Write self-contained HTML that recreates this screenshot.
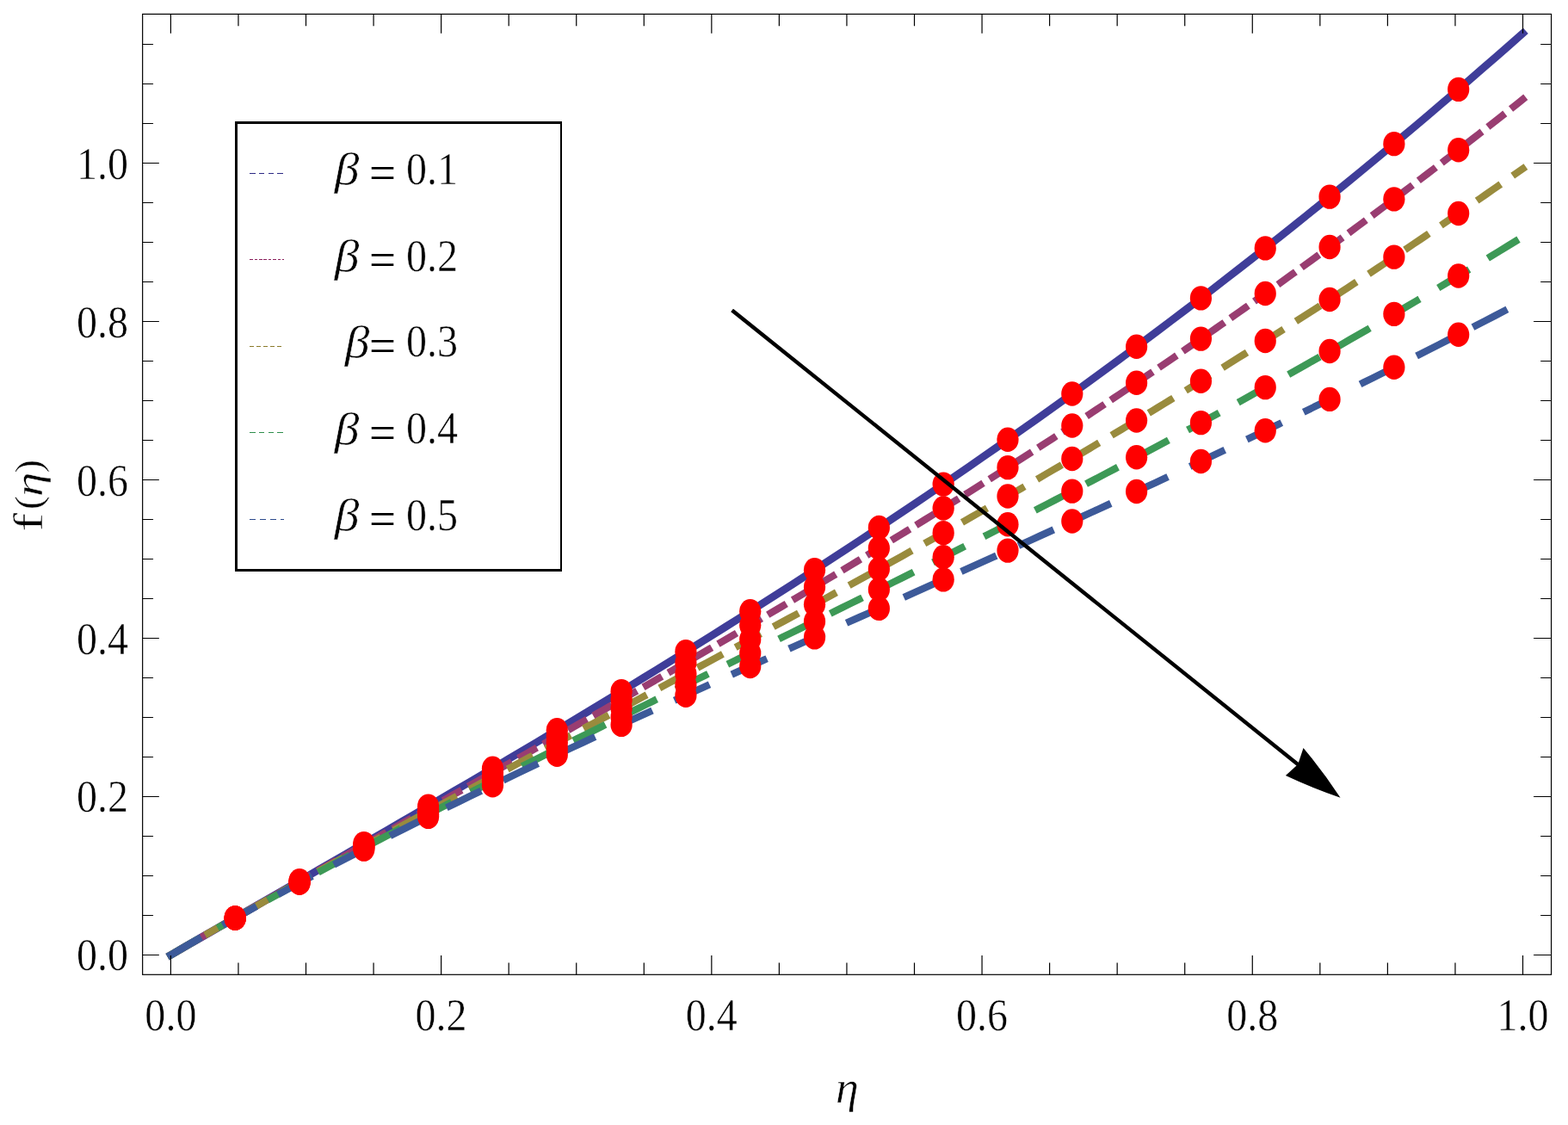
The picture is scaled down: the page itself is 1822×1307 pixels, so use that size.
<!DOCTYPE html>
<html lang="en"><head><meta charset="utf-8"><title>f(η) for different β</title>
<style>html,body{margin:0;padding:0;background:#fff;overflow:hidden}svg{display:block}text{font-family:"Liberation Serif","DejaVu Serif",serif;fill:#000;stroke:#fff;stroke-width:0.5px}</style></head><body>
<svg width="1822" height="1307" viewBox="0 0 1822 1307">
<rect width="1822" height="1307" fill="#fff"/>
<g fill="none" stroke-linecap="square" stroke-linejoin="round">
<polyline stroke="#3f3d99" stroke-width="8.9" points="198.4,1109.5 214.11,1100.43 229.82,1091.37 245.53,1082.32 261.24,1073.27 276.96,1064.23 292.67,1055.18 308.38,1046.14 324.09,1037.09 339.8,1028.04 355.51,1018.99 371.22,1009.93 386.93,1000.87 402.64,991.79 418.35,982.71 434.06,973.61 449.78,964.5 465.49,955.38 481.2,946.23 496.91,937.08 512.62,927.9 528.33,918.7 544.04,909.49 559.75,900.24 575.46,890.98 591.17,881.69 606.89,872.37 622.6,863.03 638.31,853.66 654.02,844.25 669.73,834.82 685.44,825.35 701.15,815.85 716.86,806.31 732.57,796.74 748.28,787.13 764,777.48 779.71,767.8 795.42,758.07 811.13,748.3 826.84,738.48 842.55,728.63 858.26,718.72 873.97,708.78 889.68,698.78 905.39,688.74 921.11,678.64 936.82,668.5 952.53,658.31 968.24,648.06 983.95,637.77 999.66,627.41 1015.37,617.01 1031.08,606.54 1046.79,596.03 1062.51,585.45 1078.22,574.81 1093.93,564.12 1109.64,553.37 1125.35,542.55 1141.06,531.68 1156.77,520.74 1172.48,509.74 1188.19,498.67 1203.9,487.54 1219.62,476.35 1235.33,465.09 1251.04,453.76 1266.75,442.36 1282.46,430.9 1298.17,419.37 1313.88,407.77 1329.59,396.1 1345.3,384.35 1361.01,372.54 1376.72,360.65 1392.44,348.7 1408.15,336.66 1423.86,324.56 1439.57,312.38 1455.28,300.13 1470.99,287.8 1486.7,275.4 1502.41,262.92 1518.12,250.36 1533.84,237.72 1549.55,225.01 1565.26,212.22 1580.97,199.36 1596.68,186.41 1612.39,173.38 1628.1,160.28 1643.81,147.09 1659.52,133.83 1675.23,120.48 1690.95,107.06 1706.66,93.55 1722.37,79.96 1738.08,66.29 1753.79,52.54 1769.5,38.7"/>
<path stroke="#993d71" stroke-width="8.3" d="M198.4,1109.5 L205.64,1105.3 L212.88,1101.11 M227.36,1092.73 L234.61,1088.55 L241.86,1084.38 M256.36,1076.05 L263.62,1071.88 L270.87,1067.73 M285.39,1059.43 L292.65,1055.29 L299.92,1051.15 M314.45,1042.88 L321.72,1038.75 L328.99,1034.62 M343.54,1026.38 L350.81,1022.26 L358.08,1018.15 M372.64,1009.93 L379.92,1005.82 L387.2,1001.71 M401.76,993.51 L409.04,989.41 L416.32,985.31 M430.89,977.12 L438.18,973.03 L445.46,968.93 M460.03,960.75 L467.32,956.66 L474.6,952.57 M489.18,944.39 L496.46,940.3 L503.75,936.21 M518.32,928.03 L525.61,923.94 L532.89,919.85 M547.47,911.67 L554.75,907.57 L562.03,903.48 M576.6,895.29 L583.89,891.19 L591.17,887.09 M605.73,878.89 L613.01,874.79 L620.29,870.68 M634.84,862.46 L642.12,858.35 L649.39,854.23 M663.94,845.99 L671.21,841.87 L678.48,837.74 M693.02,829.48 L700.29,825.35 L707.55,821.21 M722.08,812.92 L729.34,808.77 L736.59,804.62 M751.1,796.3 L758.36,792.14 L765.61,787.97 M780.11,779.62 L787.35,775.44 L794.59,771.25 M809.07,762.87 L816.31,758.67 L823.54,754.46 M838.01,746.04 L845.23,741.82 L852.46,737.59 M866.9,729.12 L874.12,724.88 L881.34,720.64 M895.76,712.13 L902.97,707.86 L910.17,703.59 M924.57,695.03 L931.77,690.75 L938.96,686.45 M953.34,677.85 L960.52,673.53 L967.7,669.21 M982.06,660.55 L989.23,656.21 L996.4,651.87 M1010.73,643.16 L1017.88,638.79 L1025.04,634.42 M1039.34,625.65 L1046.49,621.25 L1053.63,616.85 M1067.9,608.03 L1075.03,603.6 L1082.16,599.17 M1096.4,590.28 L1103.52,585.83 L1110.63,581.37 M1124.84,572.42 L1131.94,567.94 L1139.04,563.44 M1153.22,554.44 L1160.31,549.92 L1167.39,545.39 M1181.54,536.32 L1188.61,531.77 L1195.67,527.22 M1209.79,518.08 L1216.84,513.5 L1223.89,508.91 M1237.97,499.7 L1245.01,495.09 L1252.04,490.46 M1266.09,481.19 L1273.11,476.54 L1280.12,471.88 M1294.13,462.54 L1301.13,457.86 L1308.13,453.17 M1322.1,443.76 L1329.08,439.04 L1336.06,434.31 M1350,424.84 L1356.96,420.08 L1363.92,415.32 M1377.82,405.77 L1384.76,400.98 L1391.7,396.19 M1405.56,386.57 L1412.49,381.74 L1419.41,376.91 M1433.23,367.22 L1440.13,362.36 L1447.03,357.49 M1460.82,347.73 L1467.7,342.83 L1474.58,337.93 M1488.32,328.09 L1495.19,323.16 L1502.05,318.22 M1515.75,308.31 L1522.59,303.35 L1529.43,298.37 M1543.09,288.39 L1549.92,283.39 L1556.74,278.38 M1570.36,268.33 L1577.16,263.29 L1583.96,258.24 M1597.53,248.12 L1604.31,243.05 L1611.09,237.96 M1624.63,227.77 L1631.39,222.66 L1638.14,217.54 M1651.64,207.28 L1658.38,202.13 L1665.11,196.98 M1678.56,186.64 L1685.28,181.46 L1691.99,176.27 M1705.4,165.86 L1712.1,160.65 L1718.79,155.42 M1732.15,144.95 L1738.83,139.7 L1745.5,134.44 M1758.82,123.89 L1764.16,119.65 L1769.5,115.4"/>
<path stroke="#998b3d" stroke-width="8.3" d="M198.4,1109.5 L205.64,1105.29 L212.88,1101.09 L220.12,1096.89 M241.88,1084.37 L249.14,1080.21 L256.4,1076.06 L263.67,1071.92 M285.49,1059.54 L292.77,1055.43 L300.06,1051.33 L307.35,1047.23 M329.23,1034.98 L336.53,1030.91 L343.83,1026.85 L351.13,1022.79 M373.07,1010.66 L380.38,1006.63 L387.7,1002.6 L395.02,998.58 M417,986.55 L424.33,982.55 L431.66,978.55 L438.99,974.56 M461,962.62 L468.34,958.64 L475.69,954.67 L483.03,950.7 M505.07,938.82 L512.42,934.87 L519.77,930.92 L527.12,926.97 M549.18,915.14 L556.54,911.21 L563.9,907.27 L571.26,903.34 M593.33,891.55 L600.69,887.62 L608.06,883.69 L615.42,879.77 M637.51,868 L644.87,864.08 L652.23,860.16 L659.6,856.24 M681.69,844.48 L689.05,840.56 L696.41,836.64 L703.78,832.72 M725.86,820.95 L733.23,817.02 L740.59,813.1 L747.95,809.17 M770.03,797.39 L777.39,793.45 L784.74,789.52 L792.1,785.58 M814.17,773.76 L821.52,769.82 L828.87,765.87 L836.22,761.92 M858.27,750.06 L865.62,746.1 L872.96,742.13 L880.31,738.16 M902.33,726.24 L909.66,722.26 L917,718.27 L924.34,714.28 M946.33,702.29 L953.65,698.29 L960.98,694.28 L968.3,690.26 M990.26,678.19 L997.58,674.16 L1004.89,670.12 L1012.2,666.08 M1034.12,653.92 L1041.42,649.85 L1048.72,645.78 L1056.02,641.71 M1077.9,629.45 L1085.18,625.35 L1092.47,621.25 L1099.75,617.14 M1121.58,604.77 L1128.85,600.64 L1136.12,596.5 L1143.38,592.35 M1165.16,579.87 L1172.41,575.7 L1179.66,571.52 L1186.91,567.33 M1208.63,554.73 L1215.87,550.51 L1223.1,546.29 L1230.33,542.06 M1251.99,529.33 L1259.2,525.07 L1266.41,520.81 L1273.62,516.53 M1295.22,503.67 L1302.42,499.37 L1309.61,495.06 L1316.79,490.74 M1338.33,477.73 L1345.5,473.38 L1352.67,469.03 L1359.83,464.66 M1381.3,451.51 L1388.44,447.12 L1395.59,442.71 L1402.73,438.3 M1424.12,425 L1431.25,420.55 L1438.37,416.1 L1445.48,411.63 M1466.8,398.19 L1473.9,393.69 L1481,389.19 L1488.09,384.67 M1509.33,371.07 L1516.41,366.53 L1523.47,361.97 L1530.54,357.4 M1551.7,343.65 L1558.75,339.05 L1565.79,334.44 L1572.83,329.82 M1593.92,315.91 L1600.94,311.26 L1607.95,306.6 L1614.96,301.93 M1635.97,287.87 L1642.96,283.16 L1649.95,278.45 L1656.93,273.72 M1677.85,259.5 L1684.81,254.74 L1691.77,249.98 L1698.73,245.2 M1719.56,230.82 L1726.5,226.01 L1733.43,221.19 L1740.35,216.36 M1761.1,201.83 L1769.5,195.92"/>
<path stroke="#3d9956" stroke-width="8.3" d="M198.4,1109.5 L208.05,1103.88 L217.72,1098.28 L227.39,1092.7 M256.46,1076.08 L266.17,1070.59 L275.89,1065.11 L285.62,1059.65 M314.85,1043.4 L324.61,1038.02 L334.38,1032.66 L344.16,1027.31 M373.53,1011.38 L383.34,1006.1 L393.15,1000.84 L402.97,995.6 M432.46,979.95 L442.3,974.76 L452.15,969.59 L462.01,964.43 M491.6,949.03 L501.48,943.92 L511.36,938.83 L521.24,933.74 M550.92,918.55 L560.82,913.51 L570.73,908.47 L580.64,903.45 M610.39,888.43 L620.31,883.43 L630.23,878.45 L640.16,873.47 M669.96,858.58 L679.9,853.63 L689.84,848.69 L699.78,843.74 M729.62,828.95 L739.57,824.02 L749.52,819.1 L759.47,814.18 M789.33,799.44 L799.28,794.53 L809.24,789.62 L819.19,784.72 M849.06,770 L859.01,765.09 L868.97,760.18 L878.92,755.27 M908.79,740.54 L918.74,735.63 L928.69,730.71 L938.64,725.79 M968.49,711.01 L978.43,706.08 L988.37,701.14 L998.32,696.2 M1028.13,681.35 L1038.07,676.39 L1048,671.42 L1057.93,666.45 M1087.7,651.49 L1097.62,646.49 L1107.54,641.49 L1117.45,636.47 M1147.17,621.38 L1157.07,616.34 L1166.97,611.28 L1176.86,606.22 M1206.52,590.98 L1216.4,585.88 L1226.28,580.77 L1236.15,575.65 M1265.73,560.23 L1275.59,555.06 L1285.44,549.89 L1295.28,544.71 M1324.79,529.09 L1334.61,523.86 L1344.43,518.62 L1354.25,513.37 M1383.66,497.53 L1393.45,492.23 L1403.24,486.91 L1413.03,481.58 M1442.34,465.52 L1452.1,460.13 L1461.86,454.74 L1471.6,449.33 M1500.81,433.02 L1510.54,427.55 L1520.25,422.07 L1529.97,416.58 M1559.06,400.01 L1568.75,394.46 L1578.43,388.9 L1588.1,383.32 M1617.07,366.48 L1626.72,360.84 L1636.35,355.19 L1645.98,349.52 M1674.83,332.41 L1684.44,326.68 L1694.03,320.93 L1703.62,315.17 M1732.34,297.79 L1741.89,291.96 L1751.44,286.12 L1760.99,280.26"/>
<path stroke="#3d5a99" stroke-width="8.3" d="M198.4,1109.5 L209.02,1103.3 L219.65,1097.13 L230.3,1091 M262.33,1072.79 L273.04,1066.79 L283.76,1060.82 L294.49,1054.88 M326.77,1037.24 L337.56,1031.42 L348.36,1025.63 L359.17,1019.87 M391.67,1002.75 L402.52,997.1 L413.39,991.48 L424.26,985.88 M456.95,969.22 L467.87,963.72 L478.79,958.24 L489.73,952.78 M522.58,936.54 L533.54,931.16 L544.52,925.81 L555.5,920.48 M588.49,904.59 L599.5,899.32 L610.51,894.08 L621.53,888.85 M654.63,873.26 L665.68,868.09 L676.72,862.93 L687.78,857.79 M720.97,842.44 L732.04,837.35 L743.11,832.26 L754.19,827.19 M787.44,812.02 L798.54,806.99 L809.63,801.96 L820.73,796.93 M854.03,781.9 L865.13,776.9 L876.24,771.9 L887.35,766.91 M920.68,751.96 L931.79,746.99 L942.9,742.01 L954.02,737.04 M987.36,722.12 L998.48,717.15 L1009.59,712.17 L1020.7,707.2 M1054.04,692.27 L1065.15,687.29 L1076.26,682.31 L1087.37,677.32 M1120.69,662.34 L1131.8,657.33 L1142.9,652.32 L1154,647.31 M1187.28,632.23 L1198.38,627.19 L1209.46,622.15 L1220.55,617.1 M1253.79,601.89 L1264.86,596.8 L1275.93,591.71 L1287,586.61 M1320.18,571.24 L1331.24,566.1 L1342.29,560.95 L1353.33,555.78 M1386.45,540.23 L1397.48,535.02 L1408.5,529.8 L1419.52,524.57 M1452.56,508.81 L1463.56,503.52 L1474.55,498.23 L1485.55,492.93 M1518.49,476.93 L1529.47,471.57 L1540.43,466.19 L1551.39,460.81 M1584.24,444.56 L1595.18,439.12 L1606.12,433.66 L1617.04,428.19 M1649.79,411.68 L1660.7,406.15 L1671.59,400.6 L1682.49,395.04 M1715.13,378.26 L1725.99,372.64 L1736.85,367 L1747.71,361.35"/>
</g>
<g fill="#ff0000">
<ellipse cx="273.21" cy="1066.38" rx="12.6" ry="14.2"/>
<ellipse cx="348.03" cy="1023.3" rx="12.6" ry="14.2"/>
<ellipse cx="422.84" cy="980.11" rx="12.6" ry="14.2"/>
<ellipse cx="497.66" cy="936.64" rx="12.6" ry="14.2"/>
<ellipse cx="572.47" cy="892.75" rx="12.6" ry="14.2"/>
<ellipse cx="647.29" cy="848.29" rx="12.6" ry="14.2"/>
<ellipse cx="722.1" cy="803.13" rx="12.6" ry="14.2"/>
<ellipse cx="796.91" cy="757.14" rx="12.6" ry="14.2"/>
<ellipse cx="871.73" cy="710.2" rx="12.6" ry="14.2"/>
<ellipse cx="946.54" cy="662.2" rx="12.6" ry="14.2"/>
<ellipse cx="1021.36" cy="613.03" rx="12.6" ry="14.2"/>
<ellipse cx="1096.17" cy="562.59" rx="12.6" ry="14.2"/>
<ellipse cx="1170.99" cy="510.79" rx="12.6" ry="14.2"/>
<ellipse cx="1245.8" cy="457.54" rx="12.6" ry="14.2"/>
<ellipse cx="1320.61" cy="402.77" rx="12.6" ry="14.2"/>
<ellipse cx="1395.43" cy="346.41" rx="12.6" ry="14.2"/>
<ellipse cx="1470.24" cy="288.39" rx="12.6" ry="14.2"/>
<ellipse cx="1545.06" cy="228.65" rx="12.6" ry="14.2"/>
<ellipse cx="1619.87" cy="167.15" rx="12.6" ry="14.2"/>
<ellipse cx="1694.69" cy="103.85" rx="12.6" ry="14.2"/>
<ellipse cx="273.21" cy="1066.39" rx="12.6" ry="14.2"/>
<ellipse cx="348.03" cy="1023.84" rx="12.6" ry="14.2"/>
<ellipse cx="422.84" cy="981.65" rx="12.6" ry="14.2"/>
<ellipse cx="497.66" cy="939.63" rx="12.6" ry="14.2"/>
<ellipse cx="572.47" cy="897.61" rx="12.6" ry="14.2"/>
<ellipse cx="647.29" cy="855.43" rx="12.6" ry="14.2"/>
<ellipse cx="722.1" cy="812.91" rx="12.6" ry="14.2"/>
<ellipse cx="796.91" cy="769.91" rx="12.6" ry="14.2"/>
<ellipse cx="871.73" cy="726.29" rx="12.6" ry="14.2"/>
<ellipse cx="946.54" cy="681.92" rx="12.6" ry="14.2"/>
<ellipse cx="1021.36" cy="636.67" rx="12.6" ry="14.2"/>
<ellipse cx="1096.17" cy="590.43" rx="12.6" ry="14.2"/>
<ellipse cx="1170.99" cy="543.09" rx="12.6" ry="14.2"/>
<ellipse cx="1245.8" cy="494.57" rx="12.6" ry="14.2"/>
<ellipse cx="1320.61" cy="444.76" rx="12.6" ry="14.2"/>
<ellipse cx="1395.43" cy="393.6" rx="12.6" ry="14.2"/>
<ellipse cx="1470.24" cy="341.02" rx="12.6" ry="14.2"/>
<ellipse cx="1545.06" cy="286.96" rx="12.6" ry="14.2"/>
<ellipse cx="1619.87" cy="231.36" rx="12.6" ry="14.2"/>
<ellipse cx="1694.69" cy="174.18" rx="12.6" ry="14.2"/>
<ellipse cx="273.21" cy="1066.49" rx="12.6" ry="14.2"/>
<ellipse cx="348.03" cy="1024.52" rx="12.6" ry="14.2"/>
<ellipse cx="422.84" cy="983.36" rx="12.6" ry="14.2"/>
<ellipse cx="497.66" cy="942.81" rx="12.6" ry="14.2"/>
<ellipse cx="572.47" cy="902.69" rx="12.6" ry="14.2"/>
<ellipse cx="647.29" cy="862.79" rx="12.6" ry="14.2"/>
<ellipse cx="722.1" cy="822.95" rx="12.6" ry="14.2"/>
<ellipse cx="796.91" cy="783.01" rx="12.6" ry="14.2"/>
<ellipse cx="871.73" cy="742.8" rx="12.6" ry="14.2"/>
<ellipse cx="946.54" cy="702.17" rx="12.6" ry="14.2"/>
<ellipse cx="1021.36" cy="661" rx="12.6" ry="14.2"/>
<ellipse cx="1096.17" cy="619.16" rx="12.6" ry="14.2"/>
<ellipse cx="1170.99" cy="576.52" rx="12.6" ry="14.2"/>
<ellipse cx="1245.8" cy="532.98" rx="12.6" ry="14.2"/>
<ellipse cx="1320.61" cy="488.44" rx="12.6" ry="14.2"/>
<ellipse cx="1395.43" cy="442.81" rx="12.6" ry="14.2"/>
<ellipse cx="1470.24" cy="396.01" rx="12.6" ry="14.2"/>
<ellipse cx="1545.06" cy="347.98" rx="12.6" ry="14.2"/>
<ellipse cx="1619.87" cy="298.65" rx="12.6" ry="14.2"/>
<ellipse cx="1694.69" cy="247.98" rx="12.6" ry="14.2"/>
<ellipse cx="273.21" cy="1066.62" rx="12.6" ry="14.2"/>
<ellipse cx="348.03" cy="1025.2" rx="12.6" ry="14.2"/>
<ellipse cx="422.84" cy="985.04" rx="12.6" ry="14.2"/>
<ellipse cx="497.66" cy="945.9" rx="12.6" ry="14.2"/>
<ellipse cx="572.47" cy="907.59" rx="12.6" ry="14.2"/>
<ellipse cx="647.29" cy="869.91" rx="12.6" ry="14.2"/>
<ellipse cx="722.1" cy="832.67" rx="12.6" ry="14.2"/>
<ellipse cx="796.91" cy="795.7" rx="12.6" ry="14.2"/>
<ellipse cx="871.73" cy="758.82" rx="12.6" ry="14.2"/>
<ellipse cx="946.54" cy="721.88" rx="12.6" ry="14.2"/>
<ellipse cx="1021.36" cy="684.73" rx="12.6" ry="14.2"/>
<ellipse cx="1096.17" cy="647.22" rx="12.6" ry="14.2"/>
<ellipse cx="1170.99" cy="609.23" rx="12.6" ry="14.2"/>
<ellipse cx="1245.8" cy="570.63" rx="12.6" ry="14.2"/>
<ellipse cx="1320.61" cy="531.31" rx="12.6" ry="14.2"/>
<ellipse cx="1395.43" cy="491.16" rx="12.6" ry="14.2"/>
<ellipse cx="1470.24" cy="450.09" rx="12.6" ry="14.2"/>
<ellipse cx="1545.06" cy="408.01" rx="12.6" ry="14.2"/>
<ellipse cx="1619.87" cy="364.85" rx="12.6" ry="14.2"/>
<ellipse cx="1694.69" cy="320.54" rx="12.6" ry="14.2"/>
<ellipse cx="273.21" cy="1066.69" rx="12.6" ry="14.2"/>
<ellipse cx="348.03" cy="1025.81" rx="12.6" ry="14.2"/>
<ellipse cx="422.84" cy="986.61" rx="12.6" ry="14.2"/>
<ellipse cx="497.66" cy="948.84" rx="12.6" ry="14.2"/>
<ellipse cx="572.47" cy="912.28" rx="12.6" ry="14.2"/>
<ellipse cx="647.29" cy="876.71" rx="12.6" ry="14.2"/>
<ellipse cx="722.1" cy="841.92" rx="12.6" ry="14.2"/>
<ellipse cx="796.91" cy="807.72" rx="12.6" ry="14.2"/>
<ellipse cx="871.73" cy="773.93" rx="12.6" ry="14.2"/>
<ellipse cx="946.54" cy="740.38" rx="12.6" ry="14.2"/>
<ellipse cx="1021.36" cy="706.91" rx="12.6" ry="14.2"/>
<ellipse cx="1096.17" cy="673.37" rx="12.6" ry="14.2"/>
<ellipse cx="1170.99" cy="639.62" rx="12.6" ry="14.2"/>
<ellipse cx="1245.8" cy="605.55" rx="12.6" ry="14.2"/>
<ellipse cx="1320.61" cy="571.04" rx="12.6" ry="14.2"/>
<ellipse cx="1395.43" cy="535.99" rx="12.6" ry="14.2"/>
<ellipse cx="1470.24" cy="500.31" rx="12.6" ry="14.2"/>
<ellipse cx="1545.06" cy="463.92" rx="12.6" ry="14.2"/>
<ellipse cx="1619.87" cy="426.77" rx="12.6" ry="14.2"/>
<ellipse cx="1694.69" cy="388.79" rx="12.6" ry="14.2"/>
</g>
<line x1="852.3" y1="361.8" x2="1508.2" y2="888.1" stroke="#000" stroke-width="4.4" stroke-linecap="square"/>
<path fill="#000" d="M1514.5,868.9Q1537.6,896.61 1557.5,926.7Q1524.95,915.76 1493.9,901.1L1508.2,888.1z"/>
<g stroke="#000" fill="none" stroke-width="1.2" stroke-linecap="butt">
<rect x="165.65" y="16.4" width="1636.9" height="1115.9"/>
<path stroke-width="1.2" d="M198.4,1132.3v-22.4M198.4,16.4v22.4M276.96,1132.3v-13.8M276.96,16.4v13.8M355.51,1132.3v-13.8M355.51,16.4v13.8M434.07,1132.3v-13.8M434.07,16.4v13.8M512.62,1132.3v-22.4M512.62,16.4v22.4M591.17,1132.3v-13.8M591.17,16.4v13.8M669.73,1132.3v-13.8M669.73,16.4v13.8M748.28,1132.3v-13.8M748.28,16.4v13.8M826.84,1132.3v-22.4M826.84,16.4v22.4M905.39,1132.3v-13.8M905.39,16.4v13.8M983.95,1132.3v-13.8M983.95,16.4v13.8M1062.51,1132.3v-13.8M1062.51,16.4v13.8M1141.06,1132.3v-22.4M1141.06,16.4v22.4M1219.62,1132.3v-13.8M1219.62,16.4v13.8M1298.17,1132.3v-13.8M1298.17,16.4v13.8M1376.72,1132.3v-13.8M1376.72,16.4v13.8M1455.28,1132.3v-22.4M1455.28,16.4v22.4M1533.84,1132.3v-13.8M1533.84,16.4v13.8M1612.39,1132.3v-13.8M1612.39,16.4v13.8M1690.95,1132.3v-13.8M1690.95,16.4v13.8M1769.5,1132.3v-22.4M1769.5,16.4v22.4M165.65,1109.5h19.2M1802.55,1109.5h-20.5M165.65,1063.5h12.4M1802.55,1063.5h-12.4M165.65,1017.5h12.4M1802.55,1017.5h-12.4M165.65,971.5h12.4M1802.55,971.5h-12.4M165.65,925.5h19.2M1802.55,925.5h-20.5M165.65,879.5h12.4M1802.55,879.5h-12.4M165.65,833.5h12.4M1802.55,833.5h-12.4M165.65,787.5h12.4M1802.55,787.5h-12.4M165.65,741.5h19.2M1802.55,741.5h-20.5M165.65,695.5h12.4M1802.55,695.5h-12.4M165.65,649.5h12.4M1802.55,649.5h-12.4M165.65,603.5h12.4M1802.55,603.5h-12.4M165.65,557.5h19.2M1802.55,557.5h-20.5M165.65,511.5h12.4M1802.55,511.5h-12.4M165.65,465.5h12.4M1802.55,465.5h-12.4M165.65,419.5h12.4M1802.55,419.5h-12.4M165.65,373.5h19.2M1802.55,373.5h-20.5M165.65,327.5h12.4M1802.55,327.5h-12.4M165.65,281.5h12.4M1802.55,281.5h-12.4M165.65,235.5h12.4M1802.55,235.5h-12.4M165.65,189.5h19.2M1802.55,189.5h-20.5M165.65,143.5h12.4M1802.55,143.5h-12.4M165.65,97.5h12.4M1802.55,97.5h-12.4M165.65,51.5h12.4M1802.55,51.5h-12.4"/>
</g>
<path fill="#000" d="M273,141h380v523h-380zM276,144v517h375v-517z" fill-rule="evenodd"/>
<path fill="#2d2a85" d="M290,201h7v1h-7zM301,201h6v1h-6zM312,201h6v1h-6zM322,201h7v1h-7z"/>
<path fill="#8a1f5c" d="M290,301h4v1h-4zM296,301h3v1h-3zM301,301h4v1h-4zM306,301h4v1h-4zM312,301h3v1h-3zM317,301h4v1h-4zM323,301h3v1h-3zM328,301h2v1h-2z"/>
<path fill="#8a7a2a" d="M290,402h5v1h-5zM298,402h5v1h-5zM306,402h5v1h-5zM314,402h5v1h-5zM322,402h5v1h-5z"/>
<path fill="#2e8e4c" d="M290,502h7v1h-7zM301,502h6v1h-6zM312,502h6v1h-6zM322,502h7v1h-7z"/>
<path fill="#2c4a8c" d="M290,603h7v1h-7zM302,603h7v1h-7zM314,603h7v1h-7zM326,603h4v1h-4z"/>
<g>
<text><tspan x="89.05" y="1126.65" font-size="52.37" textLength="60.05" lengthAdjust="spacingAndGlyphs">0.0</tspan></text>
<text><tspan x="89.05" y="942.75" font-size="52.37" textLength="60.05" lengthAdjust="spacingAndGlyphs">0.2</tspan></text>
<text><tspan x="89.05" y="759.95" font-size="52.37" textLength="60.05" lengthAdjust="spacingAndGlyphs">0.4</tspan></text>
<text><tspan x="89.05" y="575.6" font-size="52.37" textLength="60.05" lengthAdjust="spacingAndGlyphs">0.6</tspan></text>
<text><tspan x="89.05" y="391.75" font-size="52.37" textLength="60.05" lengthAdjust="spacingAndGlyphs">0.8</tspan></text>
<text><tspan x="89.05" y="207.65" font-size="52.37" textLength="60.05" lengthAdjust="spacingAndGlyphs">1.0</tspan></text>
</g>
<g>
<text><tspan x="168.37" y="1196.83" font-size="52.37" textLength="60.05" lengthAdjust="spacingAndGlyphs">0.0</tspan></text>
<text><tspan x="482.59" y="1196.83" font-size="52.37" textLength="60.05" lengthAdjust="spacingAndGlyphs">0.2</tspan></text>
<text><tspan x="796.81" y="1196.83" font-size="52.37" textLength="60.05" lengthAdjust="spacingAndGlyphs">0.4</tspan></text>
<text><tspan x="1111.03" y="1196.83" font-size="52.37" textLength="60.05" lengthAdjust="spacingAndGlyphs">0.6</tspan></text>
<text><tspan x="1425.25" y="1196.83" font-size="52.37" textLength="60.05" lengthAdjust="spacingAndGlyphs">0.8</tspan></text>
<text><tspan x="1739.47" y="1196.83" font-size="52.37" textLength="60.05" lengthAdjust="spacingAndGlyphs">1.0</tspan></text>
</g>
<g>
<text><tspan x="388.76" y="214.3" font-size="51.77" font-style="italic" textLength="28.67" lengthAdjust="spacingAndGlyphs">β</tspan> <tspan x="429" y="220.25" font-size="57.6" textLength="30.99" lengthAdjust="spacingAndGlyphs" stroke="none">=</tspan> <tspan x="471.9" y="213.73" font-size="52.37" textLength="60.05" lengthAdjust="spacingAndGlyphs">0.1</tspan></text>
<text><tspan x="388.76" y="315.2" font-size="51.77" font-style="italic" textLength="28.67" lengthAdjust="spacingAndGlyphs">β</tspan> <tspan x="429" y="321.15" font-size="57.6" textLength="30.99" lengthAdjust="spacingAndGlyphs" stroke="none">=</tspan> <tspan x="471.9" y="314.63" font-size="52.37" textLength="60.05" lengthAdjust="spacingAndGlyphs">0.2</tspan></text>
<text><tspan x="400.86" y="414.9" font-size="51.77" font-style="italic" textLength="28.67" lengthAdjust="spacingAndGlyphs">β</tspan><tspan x="429" y="420.85" font-size="57.6" textLength="30.99" lengthAdjust="spacingAndGlyphs" stroke="none">=</tspan> <tspan x="471.9" y="414.33" font-size="52.37" textLength="60.05" lengthAdjust="spacingAndGlyphs">0.3</tspan></text>
<text><tspan x="388.76" y="515.85" font-size="51.77" font-style="italic" textLength="28.67" lengthAdjust="spacingAndGlyphs">β</tspan> <tspan x="429" y="521.8" font-size="57.6" textLength="30.99" lengthAdjust="spacingAndGlyphs" stroke="none">=</tspan> <tspan x="471.9" y="515.28" font-size="52.37" textLength="60.05" lengthAdjust="spacingAndGlyphs">0.4</tspan></text>
<text><tspan x="388.76" y="616.1" font-size="51.77" font-style="italic" textLength="28.67" lengthAdjust="spacingAndGlyphs">β</tspan> <tspan x="429" y="622.05" font-size="57.6" textLength="30.99" lengthAdjust="spacingAndGlyphs" stroke="none">=</tspan> <tspan x="471.9" y="615.53" font-size="52.37" textLength="60.05" lengthAdjust="spacingAndGlyphs">0.5</tspan></text>
</g>
<text><tspan x="971.02" y="1280.8" font-size="53.19" font-style="italic" textLength="26.69" lengthAdjust="spacingAndGlyphs">η</tspan></text>
<text transform="rotate(-90)"><tspan x="-617.54" y="49.04" font-size="48.61" textLength="21.53" lengthAdjust="spacingAndGlyphs">f</tspan><tspan x="-592.14" y="47.61" font-size="44.2" textLength="15.8" lengthAdjust="spacingAndGlyphs">(</tspan><tspan x="-576.9" y="49.05" font-size="47.12" font-style="italic" textLength="28.35" lengthAdjust="spacingAndGlyphs">η</tspan><tspan x="-549.51" y="47.61" font-size="44.2" textLength="15.52" lengthAdjust="spacingAndGlyphs">)</tspan></text>
</svg></body></html>
